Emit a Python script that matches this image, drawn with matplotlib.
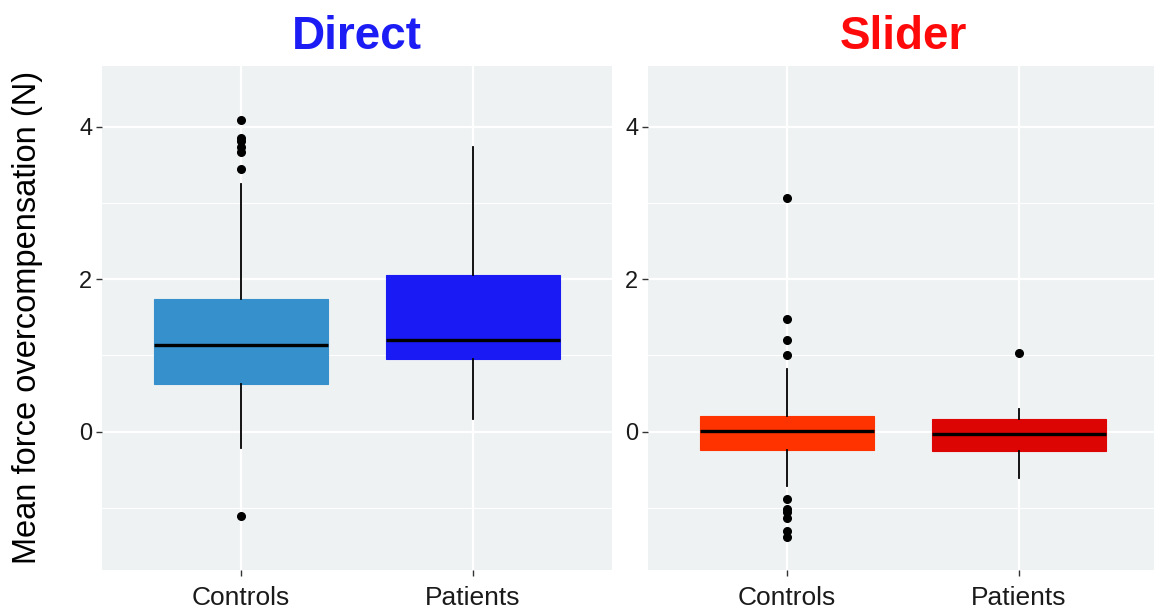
import matplotlib
matplotlib.use("Agg")
import matplotlib.pyplot as plt
from matplotlib.ticker import MultipleLocator

plt.rcParams['font.family'] = ['Liberation Sans', 'DejaVu Sans']

groups = ["Controls", "Patients"]
conditions = ["Direct", "Slider"]
title_colors = ["#1C1CF5", "#FF0A0A"]
box_colors = [["#3690CC", "#1A1AF5"], ["#FF3300", "#DD0404"]]

# Five-number summaries per condition / group: whislo, q1, median, q3, whishi
direct_whislo = [-0.21, 0.17]
direct_q1 = [0.63, 0.96]
direct_med = [1.14, 1.20]
direct_q3 = [1.74, 2.06]
direct_whishi = [3.25, 3.74]
direct_fliers = [[4.09, 3.86, 3.81, 3.74, 3.67, 3.45, -1.11], []]

slider_whislo = [-0.72, -0.61]
slider_q1 = [-0.24, -0.25]
slider_med = [0.01, -0.03]
slider_q3 = [0.20, 0.16]
slider_whishi = [0.82, 0.30]
slider_fliers = [[3.07, 1.48, 1.20, 1.00, -0.89, -1.01, -1.05, -1.14, -1.31, -1.38],
                 [1.03]]

y_ticks = [0, 2, 4]
y_label = "Mean force overcompensation (N)"

W, H = 1154, 612
fig = plt.figure(figsize=(W / 100, H / 100), dpi=100)

panel_top, panel_bot = 66, 569.5
panel_w = 510
lefts = [102, 648]

stats_by_cond = [
    (direct_whislo, direct_q1, direct_med, direct_q3, direct_whishi, direct_fliers),
    (slider_whislo, slider_q1, slider_med, slider_q3, slider_whishi, slider_fliers),
]

for k, (cond, left) in enumerate(zip(conditions, lefts)):
    ax = fig.add_axes([left / W, (H - panel_bot) / H, panel_w / W,
                       (panel_bot - panel_top) / H])
    ax.set_facecolor("#EFF2F3")
    for s in ax.spines.values():
        s.set_visible(False)

    wl, q1, md, q3, wh, fl = stats_by_cond[k]
    stats = []
    for i, g in enumerate(groups):
        stats.append(dict(label=g, whislo=wl[i], q1=q1[i], med=md[i],
                          q3=q3[i], whishi=wh[i], fliers=fl[i]))
    bp = ax.bxp(stats, positions=[1, 2], widths=0.75, patch_artist=True,
                showcaps=False,
                medianprops=dict(color="black", linewidth=2.4),
                whiskerprops=dict(color="black", linewidth=1.3),
                flierprops=dict(marker="o", markerfacecolor="black",
                                markeredgecolor="black", markersize=5.5),
                zorder=3)
    for patch, c in zip(bp["boxes"], box_colors[k]):
        patch.set_facecolor(c)
        patch.set_edgecolor(c)
        patch.set_linewidth(0.8)

    ax.set_xlim(0.4, 2.6)
    ax.set_ylim(-1.81, 4.80)
    ax.yaxis.set_major_locator(MultipleLocator(2))
    ax.yaxis.set_minor_locator(MultipleLocator(1))
    ax.set_yticks(y_ticks)
    ax.set_xticks([1, 2])
    ax.set_xticklabels(groups)
    ax.grid(which="major", color="white", linewidth=1.6, zorder=0)
    ax.grid(which="minor", axis="y", color="white", linewidth=0.8, zorder=0)
    ax.set_axisbelow(True)
    ax.tick_params(axis="both", which="major", length=4, width=1.0,
                   color="#333333", labelcolor="#1A1A1A", pad=3)
    ax.tick_params(axis="y", labelsize=17)
    ax.tick_params(axis="y", which="minor", length=0)
    ax.tick_params(axis="x", labelsize=19, pad=8)
    ax.set_title(cond, color=title_colors[k], fontsize=33, fontweight="bold",
                 pad=12)
    if k == 0:
        ax.set_ylabel(y_label, fontsize=23.5, color="black", labelpad=26)

fig.savefig("out.png", dpi=100, facecolor="white")
